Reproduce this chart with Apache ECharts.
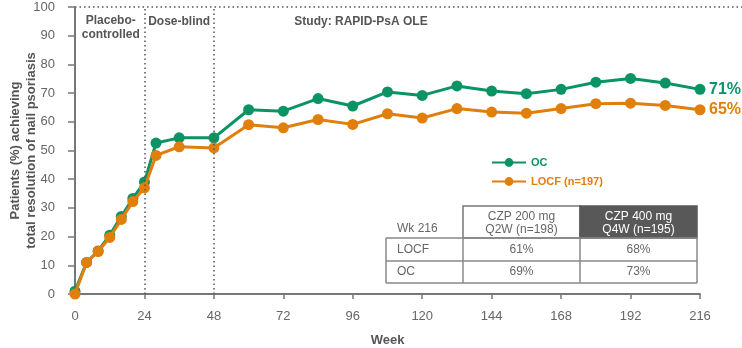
<!DOCTYPE html>
<html><head><meta charset="utf-8">
<script src="https://cdn.jsdelivr.net/npm/echarts@6/dist/echarts.min.js"></script>
<style>html,body{margin:0;padding:0;background:#fff}#c{width:742px;height:348px}</style>
</head><body><div id="c"></div>
<script>
const weeks = [0,4,8,12,16,20,24,28,36,48,60,72,84,96,108,120,132,144,156,168,180,192,204,216];
const ocValues = [1,11,15,20.5,27,33.3,39,52.6,54.4,54.4,64.2,63.7,68.1,65.5,70.4,69.2,72.5,70.7,69.8,71.3,73.8,75.1,73.5,71.3];
const locfValues = [0,11,14.8,19.7,26,32.2,37,48.3,51.3,50.9,59,57.9,60.8,59.1,62.8,61.3,64.6,63.4,63.0,64.6,66.3,66.5,65.7,64.2];
const seriesNames = ['OC','LOCF (n=197)'];
const endLabels = ['71%','65%'];
const xTicks = [0,24,48,72,96,120,144,168,192,216];
const phaseLines = [24,48];
const phaseLabels = ['Placebo-\ncontrolled','Dose-blind','Study: RAPID-PsA OLE'];
const tableHeader = ['Wk 216','CZP 200 mg\nQ2W (n=198)','CZP 400 mg\nQ4W (n=195)'];
const tableRows = [['LOCF','61%','68%'],['OC','69%','73%']];

(function () {
const GREEN = '#0a9463', ORANGE = '#e07f0c', GREY = '#666', AXIS = '#777';
const FONT = 'Liberation Sans, Arial, sans-serif';
const chart = echarts.init(document.getElementById('c'));

function mkSeries(name, vals, color, label) {
  return {
    name, type: 'line', data: weeks.map((w,i)=>[w, vals[i]]),
    symbol: 'circle', symbolSize: 11, clip: false,
    lineStyle: {color, width: 3}, itemStyle: {color},
    endLabel: {show: true, formatter: label, color, fontFamily: FONT, fontWeight: 'bold', fontSize: 16, distance: 9},
    z: name === 'OC' ? 3 : 4
  };
}
const s1 = mkSeries(seriesNames[0], ocValues, GREEN, endLabels[0]);
const s2 = mkSeries(seriesNames[1], locfValues, ORANGE, endLabels[1]);
s1.markLine = {
  silent: true, symbol: 'none', label: {show: false},
  lineStyle: {type: [1.5, 3], color: '#555', width: 1.5},
  data: phaseLines.map(x => ({xAxis: x}))
};

chart.setOption({
  animation: false,
  grid: {left: 75, right: 42, top: 7, bottom: 54, containLabel: false, outerBoundsMode: 'none'},
  xAxis: {
    type: 'value', min: 0, max: 216, interval: 24,
    name: 'Week', nameLocation: 'middle', nameGap: 40, nameMoveOverlap: false,
    nameTextStyle: {fontFamily: FONT, fontWeight: 'bold', fontSize: 13, color: '#555'},
    axisLine: {lineStyle: {color: AXIS, width: 2}},
    axisTick: {show: true, length: 5, lineStyle: {color: AXIS, width: 1.5}},
    axisLabel: {color: GREY, fontFamily: FONT, fontSize: 13, margin: 16},
    splitLine: {show: false}
  },
  yAxis: {
    type: 'value', min: 0, max: 100, interval: 10,
    name: 'Patients (%) achieving\ntotal resolution of nail psoriasis', nameLocation: 'middle', nameGap: 36, nameMoveOverlap: false,
    nameTextStyle: {fontFamily: FONT, fontWeight: 'bold', fontSize: 13, color: '#555', lineHeight: 16},
    axisLine: {show: true, lineStyle: {color: AXIS, width: 2}},
    axisTick: {show: true, length: 7, lineStyle: {color: AXIS, width: 1.5}},
    axisLabel: {color: GREY, fontFamily: FONT, fontSize: 13, margin: 20},
    splitLine: {show: false}
  },
  legend: {
    orient: 'vertical', left: 486, top: 152, itemWidth: 34, itemHeight: 11, itemGap: 8,
    data: [
      {name: seriesNames[0], textStyle: {color: GREEN}},
      {name: seriesNames[1], textStyle: {color: ORANGE}}
    ],
    textStyle: {fontFamily: FONT, fontWeight: 'bold', fontSize: 11}
  },
  series: [s1, s2]
});

// overlays
const p = (x, y) => chart.convertToPixel({gridIndex: 0}, [x, y]);
const topPt = p(0, 100);
const x24 = p(24, 100)[0], x48 = p(48, 100)[0];
const g = [];
g.push({type: 'line', shape: {x1: topPt[0], y1: topPt[1], x2: 742, y2: topPt[1]},
  style: {stroke: '#555', lineWidth: 1.5, lineDash: [1.5, 3]}, silent: true});
const phaseTextStyle = {fontFamily: FONT, fontWeight: 'bold', fontSize: 12, fill: '#555', align: 'center', verticalAlign: 'top', lineHeight: 14};
g.push({type: 'text', x: (topPt[0] + x24) / 2 + 1, y: 14, style: Object.assign({text: phaseLabels[0]}, phaseTextStyle)});
g.push({type: 'text', x: (x24 + x48) / 2, y: 15, style: Object.assign({text: phaseLabels[1]}, phaseTextStyle)});
g.push({type: 'text', x: 361, y: 15, style: Object.assign({text: phaseLabels[2]}, phaseTextStyle)});

// table
const tx0 = 386, tx1 = 463, tx2 = 580, tx3 = 697;
const ty0 = 206, ty1 = 238, ty2 = 261, ty3 = 283;
const stroke = '#888';
g.push({type: 'rect', shape: {x: tx1, y: ty0, width: tx2 - tx1, height: ty1 - ty0}, style: {fill: '#fff', stroke: '#777', lineWidth: 1.5}});
g.push({type: 'rect', shape: {x: tx2, y: ty0, width: tx3 - tx2, height: ty1 - ty0}, style: {fill: '#585858', stroke: '#585858', lineWidth: 1.5}});
[[tx0, ty1, tx3, ty1], [tx0, ty2, tx3, ty2], [tx0, ty3, tx3, ty3],
 [tx0, ty1, tx0, ty3], [tx1, ty1, tx1, ty3], [tx2, ty1, tx2, ty3], [tx3, ty1, tx3, ty3]].forEach(l => {
  g.push({type: 'line', shape: {x1: l[0], y1: l[1], x2: l[2], y2: l[3]}, style: {stroke, lineWidth: 1.5}});
});
const cellStyle = {fontFamily: FONT, fontSize: 12, fill: GREY, verticalAlign: 'middle', lineHeight: 13};
g.push({type: 'text', x: tx0 + 11, y: 229, style: Object.assign({text: tableHeader[0], align: 'left'}, cellStyle)});
g.push({type: 'text', x: (tx1 + tx2) / 2, y: (ty0 + ty1) / 2 + 1, style: Object.assign({text: tableHeader[1], align: 'center'}, cellStyle)});
g.push({type: 'text', x: (tx2 + tx3) / 2, y: (ty0 + ty1) / 2 + 1, style: Object.assign({}, cellStyle, {text: tableHeader[2], align: 'center', fill: '#fff'})});
const rowY = [(ty1 + ty2) / 2, (ty2 + ty3) / 2];
tableRows.forEach((r, i) => {
  g.push({type: 'text', x: tx0 + 11, y: rowY[i], style: Object.assign({text: r[0], align: 'left'}, cellStyle)});
  g.push({type: 'text', x: (tx1 + tx2) / 2, y: rowY[i], style: Object.assign({text: r[1], align: 'center'}, cellStyle)});
  g.push({type: 'text', x: (tx2 + tx3) / 2, y: rowY[i], style: Object.assign({text: r[2], align: 'center'}, cellStyle)});
});
chart.setOption({graphic: g});
})();
</script></body></html>
